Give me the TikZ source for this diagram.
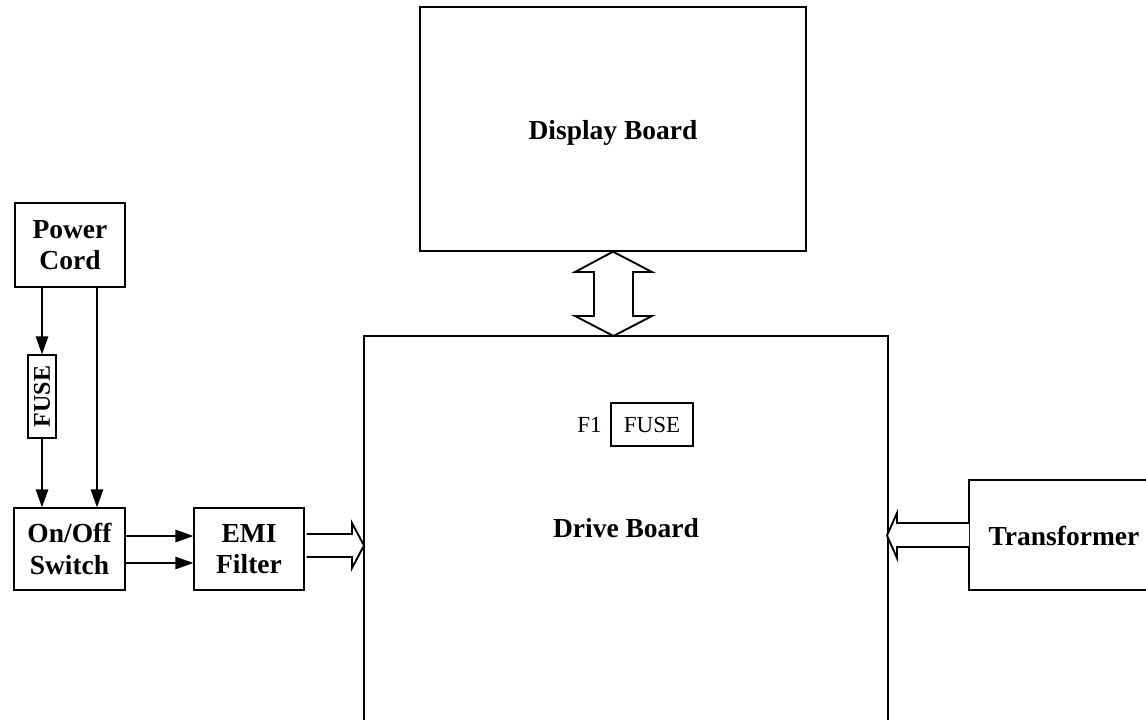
\documentclass[tikz,border=0pt]{standalone}
\usepackage{fontspec}
\setmainfont{Liberation Serif}
\usetikzlibrary{arrows.meta,calc}
\begin{document}
\begin{tikzpicture}[x=1pt,y=-1pt,
  line width=1.3pt,
  blk/.style={draw,line width=1.3pt,inner sep=0pt,align=center,font=\fontsize{27.5}{31.5}\selectfont\bfseries},
  lbl/.style={inner sep=0pt,align=center,font=\fontsize{27.5}{31.5}\selectfont\bfseries},
  small/.style={inner sep=0pt,font=\fontsize{23}{26}\selectfont},
  arr/.style={-{Triangle[length=18pt,width=12.5pt]},line width=1.3pt},
  hollow/.style={draw,line width=1.9pt,fill=white,line join=miter}]
\useasboundingbox (0,0) rectangle (1146,720);
% boxes
\node[blk,minimum width=110pt,minimum height=84pt] (pc) at (70,245) {Power\\Cord};
\node[draw,line width=1.3pt,minimum width=28pt,minimum height=83pt,inner sep=0pt] (fuse) at (42,396.5)
  {\rotatebox{90}{\fontsize{24}{26}\selectfont\bfseries FUSE}};
\node[blk,minimum width=111pt,minimum height=82pt] (sw) at (69.5,549) {On/Off\\Switch};
\node[blk,minimum width=110pt,minimum height=82pt] (emi) at (249,549) {EMI\\Filter};
\node[draw,line width=1.3pt,minimum width=386pt,minimum height=244pt] (disp) at (613,129) {};
\node[lbl] (disptxt) at (613,133) {Display Board};
% drive board (open at bottom)
\draw (364,720) -- (364,336) -- (888,336) -- (888,720);
\coordinate (drvtop) at (613.5,336);
\coordinate (drvleft) at (364,545.5);
\coordinate (drvright) at (887,535.5);
\node[lbl] (drv) at (626,528) {Drive Board};
\node[draw,line width=1.3pt,small,minimum width=82pt,minimum height=43pt] (f1) at (652,424.5) {FUSE};
\node[small,anchor=base east] (f1l) at ($(f1.base west)+(-8,0)$) {F1};
% transformer (open at right)
\draw (1146,480) -- (969,480) -- (969,590) -- (1146,590);
\node[lbl] (tr) at (1064,536) {Transformer};
% connectors
\coordinate (pcL) at ($(pc.south)+(-28,0)$);
\coordinate (pcR) at ($(pc.south)+(27,0)$);
\draw[arr] (pcL) -- (fuse.north);
\draw[arr] (fuse.south) -- (fuse.south |- sw.north);
\draw[arr] (pcR) -- (pcR |- sw.north);
\draw[arr] ($(sw.east)+(0,-13)$) -- ($(emi.west)+(0,-13)$);
\draw[arr] ($(sw.east)+(0,14)$) -- ($(emi.west)+(0,14)$);
% hollow arrows
\draw[hollow] ($(emi.east)+(2,-15)$) -- (352,534) -- (352,523) -- (drvleft) -- (352,568) -- (352,557) -- ($(emi.east)+(2,8)$);
\draw[hollow] (disp.south) -- (652,272) -- (633,272) -- (633,316) -- (652,316) -- (drvtop)
  -- (575,316) -- (594,316) -- (594,272) -- (575,272) -- cycle;
\draw[hollow] (969,523) -- (897,523) -- (897,513) -- (drvright) -- (897,558) -- (897,547) -- (969,547);
\end{tikzpicture}
\end{document}
